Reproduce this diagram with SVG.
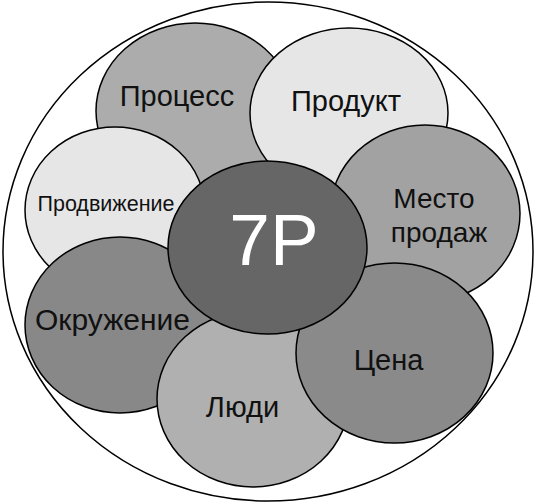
<svg xmlns="http://www.w3.org/2000/svg" width="537" height="504" viewBox="0 0 537 504">
<style>
.p{stroke:#000;stroke-width:1.5}
.t{font-family:"Liberation Sans",Arial,sans-serif;fill:#111;text-anchor:middle}
</style>
<rect width="537" height="504" fill="#fff"/>
<g id="outer"><ellipse cx="268" cy="251.5" rx="265" ry="249.5" fill="#fff" class="p"/></g>
<g id="process"><ellipse cx="195" cy="111" rx="99" ry="88" fill="#acacac" class="p"/><text class="t" x="177" y="106" font-size="29">Процесс</text></g>
<g id="product"><ellipse cx="349" cy="113" rx="99" ry="85" fill="#e6e6e6" class="p"/><text class="t" x="346" y="111" font-size="29">Продукт</text></g>
<g id="promotion"><ellipse cx="115" cy="210" rx="90" ry="83" fill="#e6e6e6" class="p"/><text class="t" x="106" y="211" font-size="21.5">Продвижение</text></g>
<g id="place"><ellipse cx="425" cy="213.5" rx="95" ry="88.5" fill="#a2a2a2" class="p"/><text class="t" x="434" y="208" font-size="28">Место</text><text class="t" x="439" y="242" font-size="28">продаж</text></g>
<g id="environment"><ellipse cx="120" cy="325" rx="95" ry="88" fill="#888" class="p"/><text class="t" x="112.5" y="330" font-size="30">Окружение</text></g>
<g id="people"><ellipse cx="253" cy="399" rx="96" ry="88" fill="#b0b0b0" class="p"/><text class="t" x="242.5" y="417" font-size="29">Люди</text></g>
<g id="price"><ellipse cx="394.5" cy="353" rx="98.5" ry="90" fill="#8a8a8a" class="p"/><text class="t" x="388.5" y="370" font-size="29">Цена</text></g>
<g id="center7p"><ellipse cx="267.5" cy="247.5" rx="99.5" ry="86.5" fill="#666" class="p"/><text class="t" x="274" y="265" font-size="73" style="fill:#fff">7P</text></g>
<g id="connectors"></g>
</svg>
